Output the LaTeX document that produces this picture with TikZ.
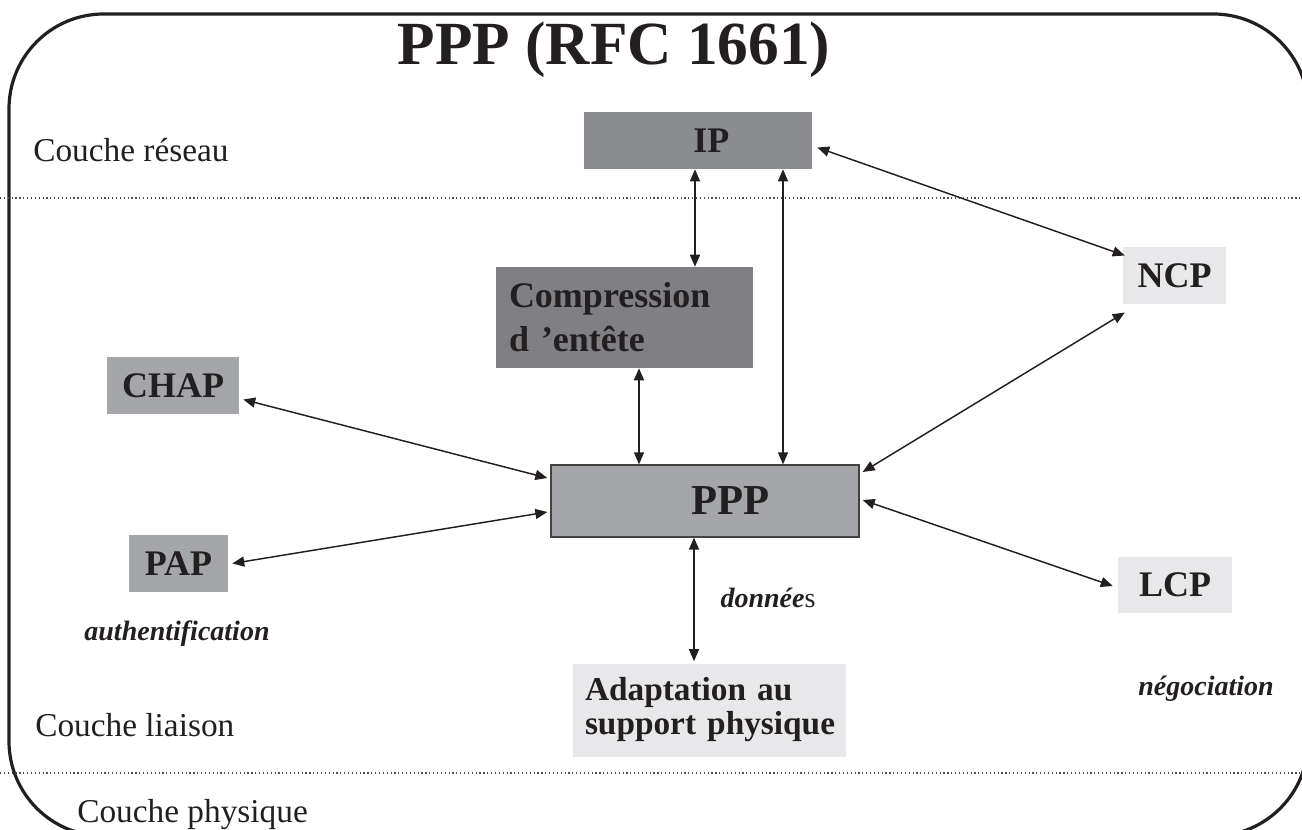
\documentclass[tikz,border=0pt]{standalone}
\usepackage{fontspec}
\setmainfont{Liberation Serif}
\usetikzlibrary{arrows.meta,calc}
\definecolor{ink}{HTML}{231F20}
\definecolor{gmid}{HTML}{8B8C90}
\definecolor{gdark}{HTML}{7F7F84}
\definecolor{glight}{HTML}{A5A6AA}
\definecolor{gpale}{HTML}{E8E8EA}
\tikzset{
  box/.style={inner sep=0pt, text=ink, font=\fontsize{27}{30}\selectfont\bfseries},
  arr/.style={draw=ink, line width=1.1pt, {Triangle[length=9pt,width=7.5pt]}-{Triangle[length=9pt,width=7.5pt]}},
  layer/.style={anchor=base west, inner sep=0pt, text=ink, font=\fontsize{25}{28}\selectfont},
  note/.style={anchor=base, inner sep=0pt, text=ink, font=\fontsize{21}{24}\selectfont\bfseries\itshape},
  sep/.style={draw=ink!80, line width=0.9pt, dotted},
}
\begin{document}
\begin{tikzpicture}[x=0.75pt,y=-0.75pt]
\useasboundingbox (0,0) rectangle (1302,830);
% frame
\draw[ink, line width=2.4pt, rounded corners=71pt] (9,14) rectangle (1308,836);
% separators
\coordinate (s1a) at (0,198); \coordinate (s1b) at (1302,198);
\coordinate (s2a) at (0,773); \coordinate (s2b) at (1302,773);
\draw[sep] (s1a) -- (s1b);
\draw[sep] (s2a) -- (s2b);
% title
\node[inner sep=0pt, text=ink, font=\fontsize{46}{50}\selectfont\bfseries] (title) at (614,50) {PPP (RFC 1661)};
% layer labels
\node[layer] (lr) at (33,162) {Couche réseau};
\node[layer] (ll) at (35,736) {Couche liaison};
\node[layer] (lp) at (77,822) {Couche physique};
% boxes
\node[box, fill=gmid, minimum width=228*0.75pt, minimum height=57*0.75pt] (ip) at (698,140.5) {\hspace*{20pt}IP};
\node[box, fill=gdark, minimum width=257*0.75pt, minimum height=101*0.75pt, text width=231*0.75pt, align=left, font=\fontsize{27}{33}\selectfont\bfseries] (comp) at (624.5,317.5) {Compression\\d ’entête};
\node[box, fill=glight, minimum width=132*0.75pt, minimum height=57*0.75pt] (chap) at (173,385.5) {CHAP};
\node[box, fill=glight, minimum width=99*0.75pt, minimum height=57*0.75pt] (pap) at (178.5,563.5) {PAP};
\node[box, fill=glight, draw=ink!85, line width=1pt, minimum width=308*0.75pt, minimum height=72*0.75pt, font=\fontsize{32}{36}\selectfont\bfseries] (ppp) at (705,501) {\hspace*{38pt}PPP};
\node[box, fill=gpale, minimum width=103*0.75pt, minimum height=57*0.75pt] (ncp) at (1174.5,275.5) {NCP};
\node[box, fill=gpale, minimum width=114*0.75pt, minimum height=56*0.75pt] (lcp) at (1175,585) {LCP};
\node[box, fill=gpale, minimum width=273*0.75pt, minimum height=93*0.75pt, text width=249*0.75pt, align=left, font=\fontsize{25}{25.5}\selectfont\bfseries] (adapt) at (709.5,710) {\mbox{Adaptation au}\\\mbox{support physique}};
% notes
\node[note] (auth) at (177,640) {authentification};
\node[note] (don) at (768,607) {donnée\textmd{\upshape s}};
\node[note] (neg) at (1206,695) {négociation};
% connectors
\draw[arr] (ip.south -| 695,0) -- (comp.north -| 695,0);
\draw[arr] (ip.south -| 783,0) -- (ppp.north -| 783,0);
\draw[arr] (comp.south -| 639,0) -- (ppp.north -| 639,0);
\draw[arr] (ppp.south -| 694,0) -- ($(adapt.north -| 694,0)+(0,-2)$);
\draw[arr] ($(ip.east)+(5,7)$) -- ($(ncp.west)+(2,-20)$);
\draw[arr] ($(ppp.east)+(3,-29)$) -- ($(ncp.west)+(2,37)$);
\draw[arr] ($(ppp.east)+(3,-1)$) -- ($(lcp.west)+(-5,1)$);
\draw[arr] ($(chap.east)+(4,14)$) -- ($(ppp.west)+(-3,-23)$);
\draw[arr] ($(pap.east)+(4,0)$) -- ($(ppp.west)+(-3,11)$);
\end{tikzpicture}
\end{document}
